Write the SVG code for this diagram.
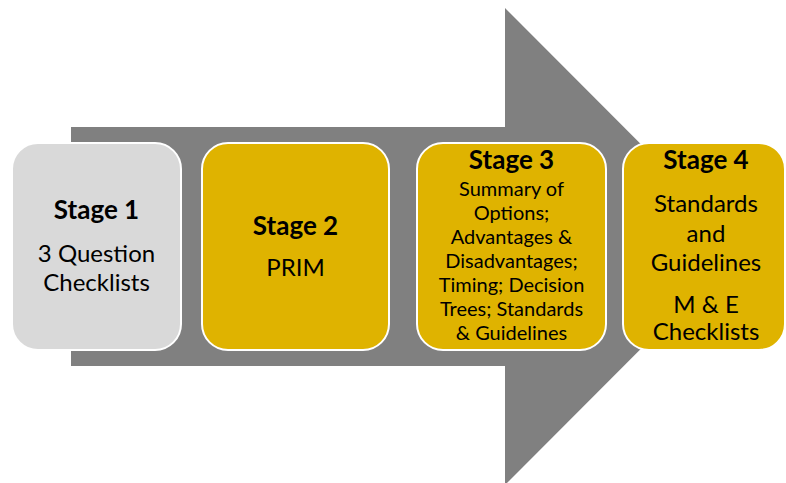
<svg xmlns="http://www.w3.org/2000/svg" width="786" height="483" viewBox="0 0 786 483">
  <style>
    .box { stroke: #ffffff; stroke-width: 2; }
    .grey { fill: #d9d9d9; }
    .gold { fill: #dfb300; }
    text { font-family: Lato, "Open Sans", "Liberation Sans", sans-serif; fill: #000000; text-anchor: middle; }
    .title { font-weight: bold; font-size: 26px; }
    .body { font-size: 24px; }
    .small { font-size: 20px; }
  </style>
  <rect width="786" height="483" fill="#ffffff"/>

  <!-- large process arrow behind the stages -->
  <g id="connectors">
    <path d="M71 127 H505 V8 L743 246.5 L505 485 V366 H71 Z" fill="#808080"/>
  </g>

  <g id="stage1">
    <rect class="box grey" x="12" y="143" width="169" height="207" rx="26"/>
    <text class="title" x="96.5" y="219">Stage 1</text>
    <text class="body" x="96.5" y="262">3 Question</text>
    <text class="body" x="96.5" y="291">Checklists</text>
  </g>

  <g id="stage2">
    <rect class="box gold" x="202" y="143" width="187" height="207" rx="26"/>
    <text class="title" x="295.5" y="235">Stage 2</text>
    <text class="body" x="295.5" y="276">PRIM</text>
  </g>

  <g id="stage3">
    <rect class="box gold" x="417" y="143" width="189" height="207" rx="26"/>
    <text class="title" x="511.5" y="169">Stage 3</text>
    <text class="small" x="511.5" y="196">Summary of</text>
    <text class="small" x="511.5" y="220">Options;</text>
    <text class="small" x="511.5" y="244">Advantages &amp;</text>
    <text class="small" x="511.5" y="268">Disadvantages;</text>
    <text class="small" x="511.5" y="292">Timing; Decision</text>
    <text class="small" x="511.5" y="316">Trees; Standards</text>
    <text class="small" x="511.5" y="340">&amp; Guidelines</text>
  </g>

  <g id="stage4">
    <rect class="box gold" x="623" y="143" width="162" height="207" rx="26"/>
    <text class="title" x="706" y="169">Stage 4</text>
    <text class="body" x="706" y="212">Standards</text>
    <text class="body" x="706" y="242">and</text>
    <text class="body" x="706" y="271">Guidelines</text>
    <text class="body" x="706" y="313">M &amp; E</text>
    <text class="body" x="706" y="340">Checklists</text>
  </g>
</svg>
